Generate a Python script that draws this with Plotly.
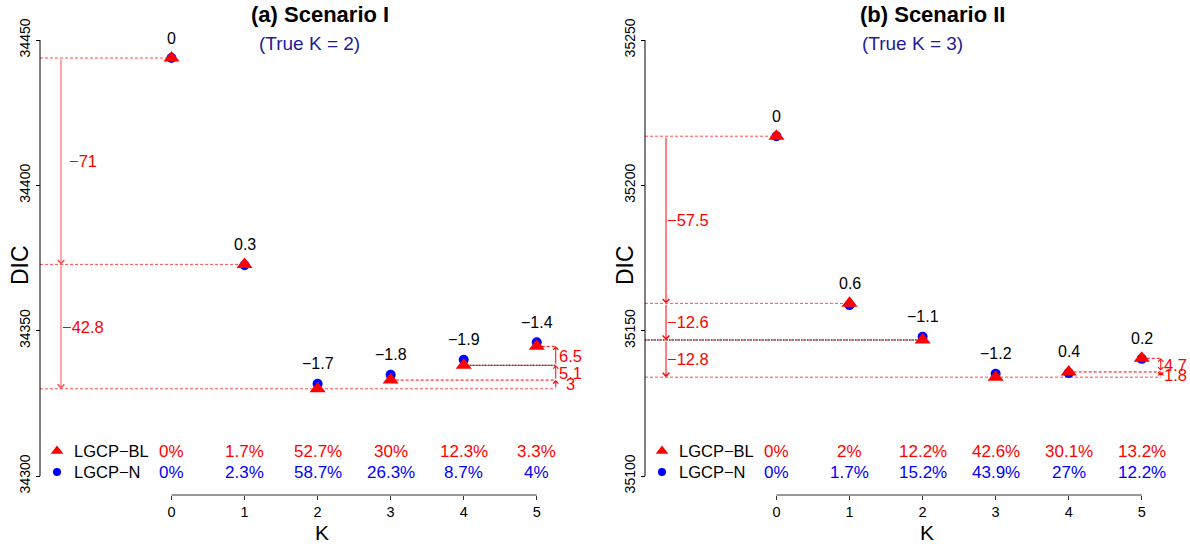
import plotly.graph_objects as go

W, H = 1190, 544

k_vals = [0, 1, 2, 3, 4, 5]

# Scenario I (true K = 2): DIC of LGCP-BL and the gap LGCP-BL minus LGCP-N
bl_1 = [34443.8, 34372.8, 34330.0, 34333.0, 34338.1, 34344.6]
gap_1 = [0, 0.3, -1.7, -1.8, -1.9, -1.4]
pct_bl_1 = ["0%", "1.7%", "52.7%", "30%", "12.3%", "3.3%"]
pct_n_1 = ["0%", "2.3%", "58.7%", "26.3%", "8.7%", "4%"]
yticks_1 = [34300, 34350, 34400, 34450]

# Scenario II (true K = 3)
bl_2 = [35216.9, 35159.4, 35146.8, 35134.0, 35135.8, 35140.5]
gap_2 = [0, 0.6, -1.1, -1.2, 0.4, 0.2]
pct_bl_2 = ["0%", "2%", "12.2%", "42.6%", "30.1%", "13.2%"]
pct_n_2 = ["0%", "1.7%", "15.2%", "43.9%", "27%", "12.2%"]
yticks_2 = [35100, 35150, 35200, 35250]

FONT = "Liberation Sans, Arial, Helvetica, sans-serif"
RED = "#ff0000"
BLUE = "#0000ff"
LIGHT_RED = "rgba(255,0,0,0.7)"
NAVY = "#1c1c96"

PXK = 73.05          # pixels per unit of K
PXU = 436 / 150      # pixels per DIC unit
TICK_TOP_PX = 40     # pixel row of the highest y tick
AXIS_X_PX = 495      # pixel row of the K axis


def fmt(v):
    s = f"{round(v, 1):.1f}"
    if s.endswith(".0"):
        s = s[:-2]
    if s in ("-0",):
        s = "0"
    return s.replace("-", "\u2212")


def note(**kw):
    kw.setdefault("showarrow", False)
    kw.setdefault("xanchor", "center")
    kw.setdefault("yanchor", "middle")
    return kw


panels = [
    dict(bl=bl_1, gap=gap_1, pbl=pct_bl_1, pn=pct_n_1, yt=yticks_1,
         axis_px=40, k0_px=171.5, title="(a) Scenario I", sub="(True K = 2)",
         title_px=320, sub_px=309, drop_color=LIGHT_RED, dark=[4]),
    dict(bl=bl_2, gap=gap_2, pbl=pct_bl_2, pn=pct_n_2, yt=yticks_2,
         axis_px=645, k0_px=776.5, title="(b) Scenario II", sub="(True K = 3)",
         title_px=932, sub_px=912, drop_color=RED, dark=[2]),
]

fig = go.Figure()
annotations = []
shapes = []
layout = {}

for i, p in enumerate(panels):
    sfx = "" if i == 0 else str(i + 1)
    xa, ya = "x" + sfx, "y" + sfx
    bl, gap = p["bl"], p["gap"]
    n_vals = [round(b - g, 1) for b, g in zip(bl, gap)]
    ytop = p["yt"][-1]
    k0 = p["k0_px"]
    apx = p["axis_px"]

    def xd(px, k0=k0):
        return (px - k0) / PXK

    def yd(px, ytop=ytop):
        return ytop - (px - TICK_TOP_PX) / PXU

    dom_x = [apx - 12, min(apx + 545, W)]
    dom_y = [8, 500]

    layout["xaxis" + sfx] = dict(
        domain=[dom_x[0] / W, dom_x[1] / W],
        range=[xd(dom_x[0]), xd(dom_x[1])],
        anchor="free", position=1 - AXIS_X_PX / H,
        tickvals=k_vals, ticktext=[str(k) for k in k_vals],
        ticks="outside", ticklen=4, tickcolor="#333333",
        showline=False, showgrid=False, zeroline=False,
        tickfont=dict(family=FONT, size=14.5, color="black"),
    )
    layout["yaxis" + sfx] = dict(
        domain=[1 - dom_y[1] / H, 1 - dom_y[0] / H],
        range=[yd(dom_y[1]), yd(dom_y[0])],
        anchor="free", position=apx / W,
        tickvals=p["yt"], ticktext=[str(v) for v in p["yt"]],
        tickangle=-90, ticks="outside", ticklen=4, tickcolor="black",
        showline=False, showgrid=False, zeroline=False,
        tickfont=dict(family=FONT, size=14, color="black"),
    )

    # axis lines spanning only the tick range
    shapes.append(dict(type="line", xref=xa, yref=ya, x0=xd(apx), x1=xd(apx),
                       y0=p["yt"][0], y1=p["yt"][-1],
                       line=dict(color="black", width=1)))
    shapes.append(dict(type="line", xref=xa, yref=ya, x0=k_vals[0], x1=k_vals[-1],
                       y0=yd(AXIS_X_PX), y1=yd(AXIS_X_PX),
                       line=dict(color="#333333", width=1)))

    m = bl.index(min(bl))
    x_axis = xd(apx)
    x_left_arrow = xd(apx + 21)
    x_left_label = xd(apx + 43)
    x_right_arrow = k_vals[-1] + 19 / PXK
    x_right_label = x_right_arrow + 15 / PXK

    # reference lines at each LGCP-BL level
    for k in k_vals:
        if k <= m:
            xs = [x_axis, k if k < m else x_right_arrow]
            col = LIGHT_RED
        else:
            xs = [k, x_right_arrow]
            col = RED
        if k in p["dark"]:
            fig.add_trace(go.Scatter(x=xs, y=[bl[k]] * 2, mode="lines", xaxis=xa, yaxis=ya,
                                     line=dict(color="black", width=1, dash="1px,2px,2px,1px"),
                                     hoverinfo="skip"))
            fig.add_trace(go.Scatter(x=xs, y=[bl[k]] * 2, mode="lines", xaxis=xa, yaxis=ya,
                                     line=dict(color=RED, width=1, dash="3px,3px"),
                                     hoverinfo="skip"))
        else:
            fig.add_trace(go.Scatter(x=xs, y=[bl[k]] * 2, mode="lines", xaxis=xa, yaxis=ya,
                                     line=dict(color=col, width=1, dash="3px,2px"),
                                     hoverinfo="skip"))

    # drops down to the minimum
    for k in range(m):
        annotations.append(dict(
            xref=xa, yref=ya, axref=xa, ayref=ya,
            x=x_left_arrow, y=bl[k + 1], ax=x_left_arrow, ay=bl[k],
            text="", showarrow=True, arrowhead=4, arrowsize=1.3, arrowwidth=1,
            arrowcolor=p["drop_color"]))
        annotations.append(note(
            xref=xa, yref=ya, x=x_left_label, y=(bl[k] + bl[k + 1]) / 2,
            text=fmt(bl[k + 1] - bl[k]),
            font=dict(family=FONT, size=16.5, color=RED)))

    # rises after the minimum
    for k in range(m, len(k_vals) - 1):
        annotations.append(dict(
            xref=xa, yref=ya, axref=xa, ayref=ya,
            x=x_right_arrow, y=bl[k + 1], ax=x_right_arrow, ay=bl[k],
            text="", showarrow=True, arrowhead=4, arrowsize=1.0, arrowwidth=1,
            arrowside="end" if i == 0 else "end+start",
            arrowcolor=RED))
        annotations.append(note(
            xref=xa, yref=ya, x=x_right_label, y=(bl[k] + bl[k + 1]) / 2,
            text=fmt(bl[k + 1] - bl[k]),
            font=dict(family=FONT, size=16.5, color=RED)))

    # points
    fig.add_trace(go.Scatter(x=k_vals, y=n_vals, mode="markers", xaxis=xa, yaxis=ya,
                             marker=dict(symbol="circle", size=10, color=BLUE),
                             cliponaxis=False, name="LGCP\u2212N"))
    fig.add_trace(go.Scatter(x=k_vals, y=bl, mode="markers", xaxis=xa, yaxis=ya,
                             marker=dict(symbol="triangle-up", size=14, color=RED),
                             cliponaxis=False, name="LGCP\u2212BL"))

    # gap labels above the points
    for k in k_vals:
        annotations.append(note(
            xref=xa, yref=ya, x=k, y=max(bl[k], n_vals[k]), yshift=20,
            text=fmt(gap[k]),
            font=dict(family=FONT, size=16, color="black")))

    # in-plot legend with selection percentages
    row_px = [451, 472]
    fig.add_trace(go.Scatter(x=[xd(apx + 17)], y=[yd(row_px[0])], mode="markers",
                             xaxis=xa, yaxis=ya,
                             marker=dict(symbol="triangle-up", size=11, color=RED),
                             cliponaxis=False, hoverinfo="skip"))
    fig.add_trace(go.Scatter(x=[xd(apx + 17)], y=[yd(row_px[1])], mode="markers",
                             xaxis=xa, yaxis=ya,
                             marker=dict(symbol="circle", size=8, color=BLUE),
                             cliponaxis=False, hoverinfo="skip"))
    for r, (lab, pcts, col) in enumerate([("LGCP\u2212BL", p["pbl"], RED),
                                          ("LGCP\u2212N", p["pn"], BLUE)]):
        annotations.append(note(
            xref=xa, yref="paper", x=xd(apx + 32), y=1 - row_px[r] / H, xanchor="left",
            text=lab, font=dict(family=FONT, size=16.5, color="black")))
        for k in k_vals:
            annotations.append(note(
                xref=xa, yref="paper", x=k, y=1 - row_px[r] / H,
                text=pcts[k], font=dict(family=FONT, size=17, color=col)))

    # titles and axis labels
    annotations.append(note(xref="paper", yref="paper", x=p["title_px"] / W, y=1 - 14 / H,
                            text="<b>" + p["title"] + "</b>",
                            font=dict(family=FONT, size=22, color="black")))
    annotations.append(note(xref="paper", yref="paper", x=p["sub_px"] / W, y=1 - 43 / H,
                            text=p["sub"],
                            font=dict(family=FONT, size=19, color=NAVY)))
    annotations.append(note(xref="paper", yref="paper", x=(apx - 20) / W, y=1 - 265 / H,
                            text="DIC", textangle=-90,
                            font=dict(family=FONT, size=23, color="black")))
    annotations.append(note(xref="paper", yref="paper", x=(apx + 282) / W, y=1 - 532 / H,
                            text="K",
                            font=dict(family=FONT, size=21, color="black")))

fig.update_layout(
    width=W, height=H,
    margin=dict(l=0, r=0, t=0, b=0),
    paper_bgcolor="white", plot_bgcolor="white",
    showlegend=False,
    annotations=annotations, shapes=shapes,
    font=dict(family=FONT),
    **layout,
)

fig.write_html("out.html")
